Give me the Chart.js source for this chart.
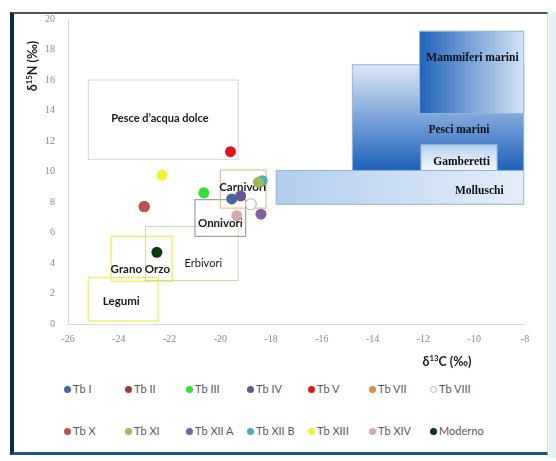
<!DOCTYPE html>
<html>
<head>
<meta charset="utf-8">
<script src="https://cdn.jsdelivr.net/npm/chart.js@4"></script>
<style>
html, body { margin: 0; padding: 0; background: #fff; width: 556px; height: 461px; overflow: hidden; font-family: Lato, sans-serif; }
#frame { position: absolute; left: 10px; top: 12px; width: 533px; height: 438px; border-left: 4px solid #0e2a4c; border-top: 2px solid #555; border-bottom: 3px solid #1c5584; border-right: 1px solid #cfd8dc; }
#edge { position: absolute; left: 549px; top: 12px; width: 7px; height: 446px; background: #e2f4f6; }
#chart { position: absolute; left: 0; top: 0; }
#legend { position: absolute; left: 64px; top: 382px; display: grid; grid-template-columns: repeat(7, 61px); row-gap: 28px; }
#legend div { font-size: 11px; line-height: 14px; color: #595959; white-space: nowrap; display: flex; align-items: center; }
#legend span { display: inline-block; width: 7px; height: 7px; border-radius: 50%; margin-right: 2px; box-sizing: border-box; }
</style>
</head>
<body>
<div id="frame"></div>
<div id="edge"></div>
<canvas id="chart" width="556" height="375"></canvas>
<div id="legend"></div>
<script>
// sample series (one point each)
const seriesNames = ["Tb I", "Tb II", "Tb III", "Tb IV", "Tb V", "Tb VII", "Tb VIII",
                     "Tb X", "Tb XI", "Tb XII A", "Tb XII B", "Tb XIII", "Tb XIV", "Moderno"];
const seriesC = [-19.55, -23.0, -20.65, -19.2, -19.6, -18.8, -18.8,
                 -23.0, -18.5, -18.4, -18.35, -22.3, -19.35, -22.5];
const seriesN = [8.2, 7.7, 8.6, 8.4, 11.3, 7.85, 7.85,
                 7.7, 9.3, 7.2, 9.4, 9.75, 7.1, 4.7];
const seriesColors = ["#46699a", "#9a3f3f", "#33e033", "#6a5590", "#e0161b", "#d98a48", "#ffffff",
                      "#c24f4c", "#9bbb59", "#7d62a0", "#4aa9c4", "#f2f230", "#d9a8aa", "#0b3a10"];
// series hidden underneath others in the picture
const hiddenSeries = ["Tb II", "Tb VII"];

// reference zones (data units)
const zoneNames = ["Pesce d\u2019acqua dolce", "Legumi", "Grano Orzo", "Erbivori", "Onnivori", "Carnivori",
                   "Molluschi", "Pesci marini", "Mammiferi marini", "Gamberetti"];
const zoneC0 = [-25.2, -25.2, -24.3, -22.95, -21.0, -20.0, -17.8, -14.8, -12.15, -12.1];
const zoneC1 = [-19.3, -22.45, -21.9, -19.3, -19.0, -18.2, -8.05, -8.05, -8.05, -9.1];
const zoneN0 = [10.8, 0.2, 2.8, 2.85, 5.75, 7.6, 7.85, 10.07, 13.8, 10.07];
const zoneN1 = [16.0, 3.05, 5.75, 6.4, 8.15, 10.1, 10.07, 17.0, 19.2, 11.75];
const zoneLabelC = [-22.38, -23.9, -23.15, -20.67, -20.0, -19.12, -9.8, -10.6, -10.07, -10.5];
const zoneLabelN = [13.5, 1.5, 3.6, 4.0, 6.6, 8.95, 8.7, 12.7, 17.45, 10.65];

const xTicks = [-26, -24, -22, -20, -18, -16, -14, -12, -10, -8];
const yTicks = [0, 2, 4, 6, 8, 10, 12, 14, 16, 18, 20];

const zoneStroke = ["#d4d4d4", "#f2ee6e", "#f2ee6e", "#c6dda4", "#8c8c8c", "#e9b274",
                    "#8fb5dc", "#8fb5dc", "#8fb5dc", "#8fb5dc"];
// fill: null, colour, or [direction, from, to]
const zoneFill = ["#ffffff", null, null, null, null, null,
                  ["h", "#b2cdec", "#e4eef9"],
                  ["v", "#dbe8f6", "#1d60bb"],
                  ["h", "#2163bb", "#d3e3f4"],
                  ["v", "#b7d1ee", "#f6f9fd"]];
const zoneFont = ["bold 11px Lato", "bold 11.5px Lato", "bold 11.5px Lato", "11px Lato", "bold 11.5px Lato", "bold 11.5px Lato",
                  "bold 11.5px 'Liberation Serif'", "bold 11.5px 'Liberation Serif'", "bold 11.5px 'Liberation Serif'", "bold 11.5px 'Liberation Serif'"];

function supText(ctx, parts, size) {
  // parts: [text, isSup]
  let total = 0;
  parts.forEach(p => {
    ctx.font = "bold " + (p[1] ? size * 0.62 : size) + "px Lato";
    total += ctx.measureText(p[0]).width;
  });
  let cx = -total / 2;
  parts.forEach(p => {
    ctx.font = "bold " + (p[1] ? size * 0.62 : size) + "px Lato";
    ctx.fillText(p[0], cx, p[1] ? -size * 0.3 : 0);
    cx += ctx.measureText(p[0]).width;
  });
}

const zonePlugin = {
  id: 'zones',
  beforeDatasetsDraw(chart) {
    const ctx = chart.ctx, x = chart.scales.x, y = chart.scales.y;
    ctx.save();
    zoneNames.forEach((name, i) => {
      const l = x.getPixelForValue(zoneC0[i]), r = x.getPixelForValue(zoneC1[i]);
      const t = y.getPixelForValue(zoneN1[i]), b = y.getPixelForValue(zoneN0[i]);
      const f = zoneFill[i];
      if (f) {
        if (Array.isArray(f)) {
          const g = f[0] == "h" ? ctx.createLinearGradient(l, 0, r, 0) : ctx.createLinearGradient(0, t, 0, b);
          g.addColorStop(0, f[1]);
          g.addColorStop(1, f[2]);
          ctx.fillStyle = g;
        } else {
          ctx.fillStyle = f;
        }
        ctx.fillRect(l, t, r - l, b - t);
      }
      ctx.strokeStyle = zoneStroke[i];
      ctx.lineWidth = i > 0 && i < 3 ? 1.5 : 1;
      ctx.strokeRect(l, t, r - l, b - t);
    });
    ctx.textAlign = "center";
    ctx.textBaseline = "middle";
    zoneNames.forEach((name, i) => {
      ctx.font = zoneFont[i];
      ctx.fillStyle = i >= 6 ? "#0a0f1a" : "#1a1a1a";
      ctx.fillText(name, x.getPixelForValue(zoneLabelC[i]), y.getPixelForValue(zoneLabelN[i]));
    });
    ctx.restore();
  },
  afterDraw(chart) {
    const ctx = chart.ctx;
    ctx.save();
    ctx.fillStyle = "#1a1a1a";
    ctx.textAlign = "left";
    ctx.textBaseline = "middle";
    ctx.translate(33, 66);
    ctx.rotate(-Math.PI / 2);
    supText(ctx, [["\u03b4", 0], ["15", 1], ["N (\u2030)", 0]], 12.5);
    ctx.restore();
    ctx.save();
    ctx.fillStyle = "#1a1a1a";
    ctx.textAlign = "left";
    ctx.textBaseline = "middle";
    ctx.translate(447, 362);
    supText(ctx, [["\u03b4", 0], ["13", 1], ["C (\u2030)", 0]], 12.5);
    ctx.restore();
  }
};

const datasets = seriesNames.map((name, i) => ({
  label: name,
  data: [{ x: seriesC[i], y: seriesN[i] }],
  backgroundColor: seriesColors[i],
  borderColor: name == "Tb VIII" ? "#b5b5b5" : seriesColors[i],
  borderWidth: name == "Tb VIII" ? 1 : 0,
  pointRadius: 5.5,
  pointHoverRadius: 5.5,
  order: hiddenSeries.includes(name) ? 1 : 0
}));

new Chart(document.getElementById("chart"), {
  type: "scatter",
  data: { datasets: datasets },
  plugins: [zonePlugin],
  options: {
    responsive: false,
    animation: false,
    layout: { padding: { left: 0, top: 18, right: 31, bottom: 0 } },
    plugins: { legend: { display: false }, tooltip: { enabled: false } },
    scales: {
      x: {
        type: "linear", min: -26, max: -8,
        afterBuildTicks: s => { s.ticks = xTicks.map(v => ({ value: v })); },
        afterFit: s => { s.height = 51; },
        grid: { display: false, drawTicks: false },
        border: { display: true, color: "#d9d9d9" },
        ticks: { padding: 9, color: "#8a8a8a", font: { family: "Liberation Serif", size: 10 } }
      },
      y: {
        type: "linear", min: 0, max: 20,
        afterBuildTicks: s => { s.ticks = yTicks.map(v => ({ value: v })); },
        afterFit: s => { s.width = 68; },
        grid: { display: false, drawTicks: false },
        border: { display: true, color: "#d9d9d9" },
        ticks: { padding: 13, color: "#8a8a8a", font: { family: "Liberation Serif", size: 10 } }
      }
    }
  }
});

const legend = document.getElementById("legend");
seriesNames.forEach((name, i) => {
  const item = document.createElement("div");
  const dot = document.createElement("span");
  dot.style.background = seriesColors[i];
  if (name == "Tb VIII") dot.style.border = "1px solid #b5b5b5";
  item.appendChild(dot);
  item.appendChild(document.createTextNode(name));
  legend.appendChild(item);
});
</script>
</body>
</html>
